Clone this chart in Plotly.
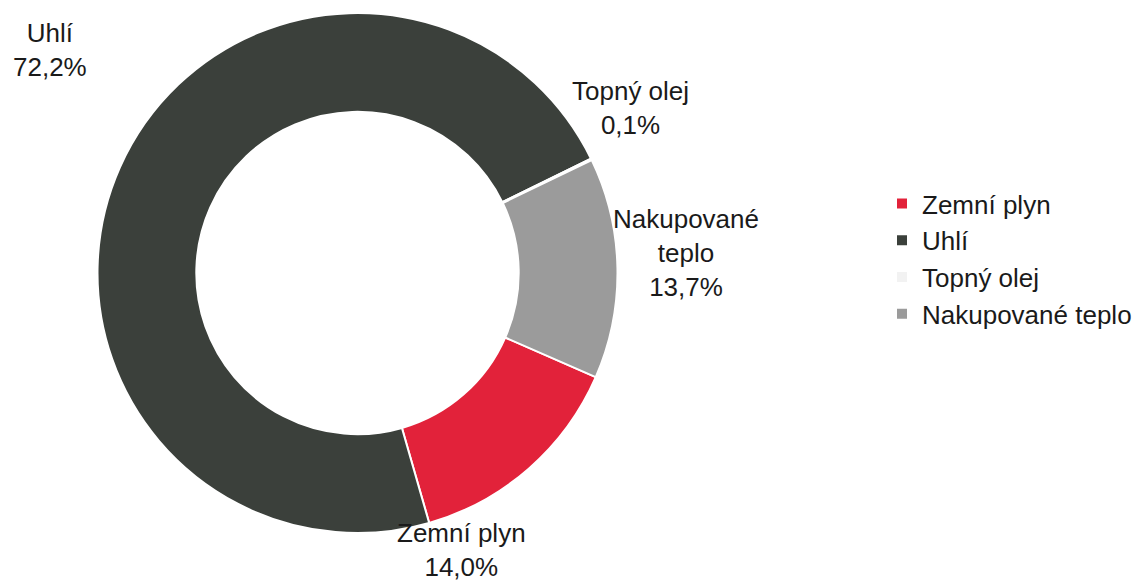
import plotly.graph_objects as go

labels = ["Zemní plyn", "Uhlí", "Topný olej", "Nakupované teplo"]
values = [14.0, 72.2, 0.1, 13.7]
label_lines = ["Zemní plyn", "Uhlí", "Topný olej", "Nakupované<br>teplo"]
colors = ["#e2223a", "#3b403b", "#f2f2f2", "#9b9b9b"]

# page body has an 8px margin; figure sized to fit the window
OFF = 8
W, H = 1144 - OFF, 583 - OFF
cx, cy, R = 357.5 - OFF, 273 - OFF, 260

fig = go.Figure()
fig.add_trace(go.Pie(
    labels=labels, values=values, sort=False, direction="clockwise",
    rotation=113.6, hole=0.62,
    marker=dict(colors=colors, line=dict(color="white", width=2)),
    textinfo="none", hoverinfo="label+percent",
    domain=dict(x=[(cx - R) / W, (cx + R) / W], y=[1 - (cy + R) / H, 1 - (cy - R) / H]),
))

# label block centres (screen px) for each slice
label_pos = [(461, 550), (50, 50), (630, 108), (686, 253)]
font = dict(family="Liberation Sans, Arial, sans-serif", size=26, color="#1a1a1a")
for txt, v, (px, py) in zip(label_lines, values, label_pos):
    fig.add_annotation(
        x=(px - OFF) / W, y=1 - (py - OFF) / H, xref="paper", yref="paper",
        text=f"{txt}<br>{v:.1f}%".replace(".", ","), showarrow=False,
        font=font, align="center", xanchor="center", yanchor="middle",
    )

fig.update_layout(
    width=W, height=H, margin=dict(l=0, r=0, t=0, b=0),
    paper_bgcolor="white", plot_bgcolor="white",
    showlegend=True,
    legend=dict(x=(882 - OFF) / W, y=1 - (259 - OFF) / H, xanchor="left", yanchor="middle",
                font=font, traceorder="normal", itemclick=False, tracegroupgap=0),
)
fig.write_html("out.html")
